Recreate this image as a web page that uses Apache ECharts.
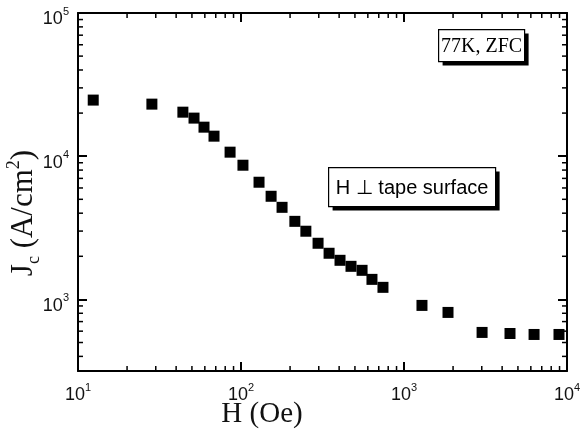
<!DOCTYPE html>
<html>
<head>
<meta charset="utf-8">
<script src="https://cdn.jsdelivr.net/npm/echarts@6/dist/echarts.min.js"></script>
<style>
  html, body { margin: 0; padding: 0; background: #fff; }
  #chart { width: 581px; height: 438px; }
</style>
</head>
<body>
<div id="chart"></div>
<script>
// data: H (Oe) vs Jc (A/cm2), 77K ZFC
const fieldH = [12.4, 28.4, 44, 51.5, 59.3, 68.3, 85.7, 102.8, 129, 153,
    178.6, 214, 250, 297, 347, 405, 473, 553, 636, 743,
    1289, 1862, 3013, 4470, 6280, 8930];
const jcValues = [24650, 23100, 20300, 18450, 15950, 13800, 10670, 8650, 6580, 5250,
    4395, 3508, 2993, 2466, 2100, 1875, 1702, 1596, 1380, 1214,
    908, 811, 588, 578, 569, 569];

// axis ranges and minor tick positions
const xRange = [10, 10000];
const yRange = [316.23, 100000];
const xMinorTicks = [20, 30, 40, 50, 60, 70, 80, 90,
    200, 300, 400, 500, 600, 700, 800, 900,
    2000, 3000, 4000, 5000, 6000, 7000, 8000, 9000];
const yMinorTicks = [400, 500, 600, 700, 800, 900,
    2000, 3000, 4000, 5000, 6000, 7000, 8000, 9000,
    20000, 30000, 40000, 50000, 60000, 70000, 80000, 90000];

const SANS = "'Liberation Sans', Arial, sans-serif";
const SERIF = "'Liberation Serif', 'Times New Roman', serif";

const chart = echarts.init(document.getElementById("chart"));

// labels like 10^3
function powLabel(v) {
    const e = Math.log10(v);
    if (Math.abs(e - Math.round(e)) > 1e-6) return "";
    return "{b|10}{s|" + Math.round(e) + "}";
}

const tickRich = {
    b: { fontFamily: SANS, fontSize: 18, color: "#111", lineHeight: 22, verticalAlign: "bottom" },
    s: { fontFamily: SANS, fontSize: 11, color: "#111", lineHeight: 22, verticalAlign: "top" }
};

function minorTickSeries(axis) {
    return {
        type: "custom",
        xAxisIndex: 0,
        yAxisIndex: 0,
        silent: true,
        z: 5,
        data: axis === "x" ?
            xMinorTicks.map(v => [v, 1000]) :
            yMinorTicks.map(v => [100, v]),
        renderItem: function (params, api) {
            const cs = params.coordSys;
            const p = api.coord([api.value(0), api.value(1)]);
            const len = 5;
            const style = { stroke: "#000", lineWidth: 1.5 };
            if (axis === "x") {
                return {
                    type: "group",
                    children: [
                        { type: "line", shape: { x1: p[0], y1: cs.y + cs.height, x2: p[0], y2: cs.y + cs.height - len }, style },
                        { type: "line", shape: { x1: p[0], y1: cs.y, x2: p[0], y2: cs.y + len }, style }
                    ]
                };
            }
            return {
                type: "group",
                children: [
                    { type: "line", shape: { x1: cs.x, y1: p[1], x2: cs.x + len, y2: p[1] }, style },
                    { type: "line", shape: { x1: cs.x + cs.width, y1: p[1], x2: cs.x + cs.width - len, y2: p[1] }, style }
                ]
            };
        }
    };
}

function boxGraphic(left, top, w, h, text, font, size) {
    return {
        type: "group",
        left: left,
        top: top,
        children: [
            { type: "rect", shape: { x: 4, y: 4, width: w, height: h }, style: { fill: "#000" } },
            { type: "rect", shape: { x: 0, y: 0, width: w, height: h }, style: { fill: "#fff", stroke: "#000", lineWidth: 1.2 } },
            { type: "text", x: w / 2, y: h / 2 + 1, style: { text: text, fontFamily: font, fontSize: size, fill: "#000", align: "center", verticalAlign: "middle" } }
        ]
    };
}

const lineStyle = { color: "#000", width: 2 };

chart.setOption({
    animation: false,
    backgroundColor: "#fff",
    grid: { left: 78, right: 14, top: 13, bottom: 67, containLabel: false, outerBoundsMode: "none" },
    xAxis: [{
        type: "log",
        min: xRange[0],
        max: xRange[1],
        position: "bottom",
        axisLine: { lineStyle },
        axisTick: { inside: true, length: 9, lineStyle },
        splitLine: { show: false },
        axisLabel: { margin: 11, fontSize: 18, formatter: powLabel, rich: tickRich }
    }, {
        type: "log",
        min: xRange[0],
        max: xRange[1],
        position: "top",
        axisLine: { lineStyle },
        axisTick: { inside: true, length: 9, lineStyle },
        splitLine: { show: false },
        axisLabel: { show: false }
    }],
    yAxis: [{
        type: "log",
        min: yRange[0],
        max: yRange[1],
        position: "left",
        axisLine: { lineStyle },
        axisTick: { inside: true, length: 9, lineStyle },
        splitLine: { show: false },
        axisLabel: { margin: 9, fontSize: 18, padding: [9, 0, 0, 0], formatter: powLabel, rich: tickRich }
    }, {
        type: "log",
        min: yRange[0],
        max: yRange[1],
        position: "right",
        axisLine: { lineStyle },
        axisTick: { inside: true, length: 9, lineStyle },
        splitLine: { show: false },
        axisLabel: { show: false }
    }],
    graphic: [
        {
            type: "text",
            x: 24,
            y: 213,
            rotation: Math.PI / 2,
            style: {
                text: "{t|J}{c|c}{t| (A/cm}{p|2}{t|)}",
                align: "center",
                verticalAlign: "middle",
                rich: {
                    t: { fontFamily: SERIF, fontSize: 31, fill: "#111", lineHeight: 38, verticalAlign: "middle" },
                    c: { fontFamily: SERIF, fontSize: 18, fill: "#111", lineHeight: 38, verticalAlign: "bottom" },
                    p: { fontFamily: SERIF, fontSize: 18, fill: "#111", lineHeight: 38, verticalAlign: "top" }
                }
            }
        },
        {
            type: "text",
            x: 262,
            y: 414,
            style: {
                text: "H (Oe)",
                fontFamily: SERIF,
                fontSize: 29,
                fill: "#111",
                align: "center",
                verticalAlign: "middle"
            }
        },
        boxGraphic(438, 29, 86, 32, "77K, ZFC", SERIF, 20),
        boxGraphic(328, 167, 167, 39, "H \u22a5 tape surface", SANS, 20)
    ],
    series: [{
        type: "scatter",
        xAxisIndex: 0,
        yAxisIndex: 0,
        symbol: "rect",
        symbolSize: 11,
        itemStyle: { color: "#000", opacity: 1 },
        data: fieldH.map((h, i) => [h, jcValues[i]]),
        z: 10
    },
    minorTickSeries("x"),
    minorTickSeries("y")
    ]
});
</script>
</body>
</html>
